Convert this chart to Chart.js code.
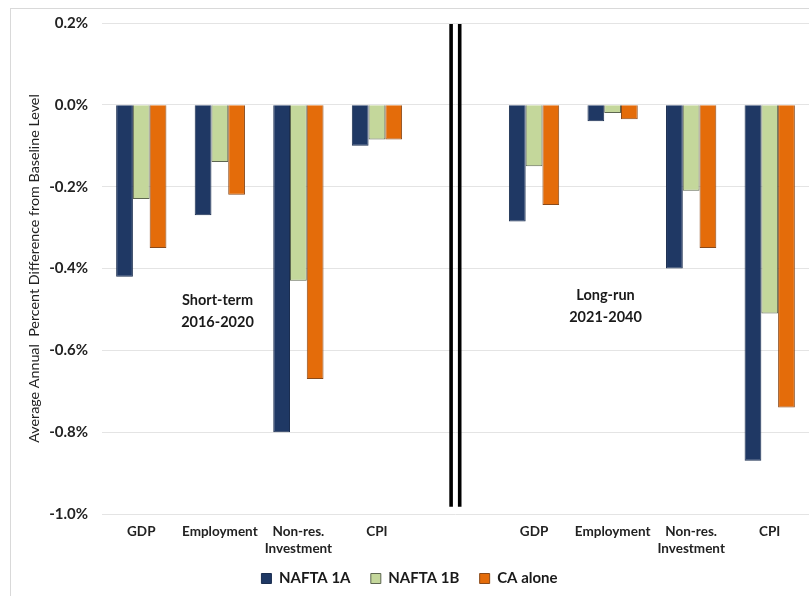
<!DOCTYPE html>
<html>
<head>
<meta charset="utf-8">
<title>NAFTA scenarios</title>
<script src="https://cdn.jsdelivr.net/npm/chart.js@4.4.1/dist/chart.umd.min.js"></script>
<style>
  html, body { margin: 0; padding: 0; background: #fff; }
  .wrap { position: relative; width: 809px; height: 596px; overflow: hidden; }
  .frame { position: absolute; left: 10px; top: 8px; width: 820px; height: 600px;
           border-top: 1px solid #d9d9d9; border-left: 1px solid #d9d9d9; }
  canvas { position: absolute; left: 0; top: 0; }
</style>
</head>
<body>
<div class="wrap">
  <div class="frame"></div>
  <canvas id="barChart" width="809" height="596"></canvas>
</div>
<script>
// categories (empty slot in the middle separates the two periods)
const categories = ['GDP', 'Employment', ['Non-res.', 'Investment'], 'CPI', '',
                    'GDP', 'Employment', ['Non-res.', 'Investment'], 'CPI'];

// average annual % difference from baseline
const nafta1A = [-0.42, -0.27, -0.80, -0.10, null, -0.285, -0.04, -0.40, -0.87];
const nafta1B = [-0.23, -0.14, -0.43, -0.085, null, -0.15, -0.02, -0.21, -0.51];
const caAlone = [-0.35, -0.22, -0.67, -0.085, null, -0.245, -0.035, -0.35, -0.74];

const yTicks = [0.2, 0.0, -0.2, -0.4, -0.6, -0.8, -1.0];

// period captions: category index + value position + lines
const periodNotes = [
    { cat: 1, x: -0.03, y: -0.477, lines: ['Short-term', '2016-2020'] },
    { cat: 6, x: -0.09, y: -0.465, lines: ['Long-run', '2021-2040'] }
];

const FONT = 'Lato, "Open Sans", sans-serif';

// double black bar marking the break between the two periods
const periodDivider = {
    id: 'periodDivider',
    afterDatasetsDraw(chart) {
        const { ctx, scales: { x, y } } = chart;
        const cx = x.getPixelForValue(4);
        const top = y.getPixelForValue(0.2) + 1;
        const bottom = y.getPixelForValue(-0.982);
        ctx.save();
        ctx.strokeStyle = '#000';
        ctx.lineWidth = 3.6;
        [-4.4, 4.2].forEach(dx => {
            ctx.beginPath();
            ctx.moveTo(cx + dx, top);
            ctx.lineTo(cx + dx, bottom);
            ctx.stroke();
        });
        ctx.restore();
    }
};

const periodLabels = {
    id: 'periodLabels',
    afterDatasetsDraw(chart) {
        const { ctx, scales: { x, y } } = chart;
        const step = x.getPixelForValue(1) - x.getPixelForValue(0);
        ctx.save();
        ctx.font = 'bold 14.5px ' + FONT;
        ctx.fillStyle = '#1a1a1a';
        ctx.textAlign = 'center';
        ctx.textBaseline = 'middle';
        periodNotes.forEach(n => {
            const px = x.getPixelForValue(n.cat) + n.x * step;
            const py = y.getPixelForValue(n.y);
            n.lines.forEach((t, i) => ctx.fillText(t, px, py + i * 22));
        });
        ctx.restore();
    }
};

const barCtx = document.getElementById('barChart').getContext('2d');
const barChart = new Chart(barCtx, {
    type: 'bar',
    data: {
        labels: categories,
        datasets: [{
            label: 'NAFTA 1A',
            data: nafta1A,
            backgroundColor: '#1f3864',
            borderColor: '#1b2e50',
            borderWidth: 1
        }, {
            label: 'NAFTA 1B',
            data: nafta1B,
            backgroundColor: '#c4d79b',
            borderColor: '#5d6650',
            borderWidth: 1
        }, {
            label: 'CA alone',
            data: caAlone,
            backgroundColor: '#e46c0a',
            borderColor: '#8a4a1a',
            borderWidth: 1
        }]
    },
    options: {
        responsive: false,
        animation: false,
        categoryPercentage: 0.64,
        barPercentage: 1.0,
        layout: { padding: { left: 10, top: 19, right: 0, bottom: 0 } },
        plugins: {
            legend: {
                position: 'bottom',
                labels: {
                    boxWidth: 10,
                    boxHeight: 10,
                    padding: 13,
                    color: '#1a1a1a',
                    font: { family: FONT, size: 15, weight: 'bold' },
                    // a little extra room between the entries
                    generateLabels(chart) {
                        const items = Chart.defaults.plugins.legend.labels.generateLabels(chart);
                        items.forEach((it, i) => {
                            if (i < items.length - 1) it.text += '  ';
                        });
                        return items;
                    }
                }
            },
            tooltip: { enabled: false }
        },
        scales: {
            x: {
                grid: { display: false, drawTicks: false },
                border: { display: false },
                ticks: {
                    color: '#222',
                    maxRotation: 0,
                    autoSkip: false,
                    padding: 9,
                    font: { family: FONT, size: 13.5, weight: 'bold', lineHeight: 1.25 }
                },
                afterFit(scale) { scale.height = 44; }
            },
            y: {
                min: -1.0,
                max: 0.2,
                afterBuildTicks(scale) {
                    scale.ticks = yTicks.map(v => ({ value: v }));
                },
                grid: { color: '#e4e4e4', drawTicks: false },
                border: { display: false },
                ticks: {
                    color: '#222',
                    padding: 14,
                    font: { family: FONT, size: 15, weight: 'bold' },
                    callback: v => (Math.abs(v) < 1e-9 ? 0 : v).toFixed(1) + '%'
                },
                title: {
                    display: true,
                    text: 'Average Annual  Percent Difference from Baseline Level',
                    color: '#222',
                    padding: { top: 16, bottom: 0 },
                    font: { family: FONT, size: 14.3 }
                },
                afterFit(scale) { scale.width = 92; }
            }
        }
    },
    plugins: [periodDivider, periodLabels]
});
</script>
</body>
</html>
